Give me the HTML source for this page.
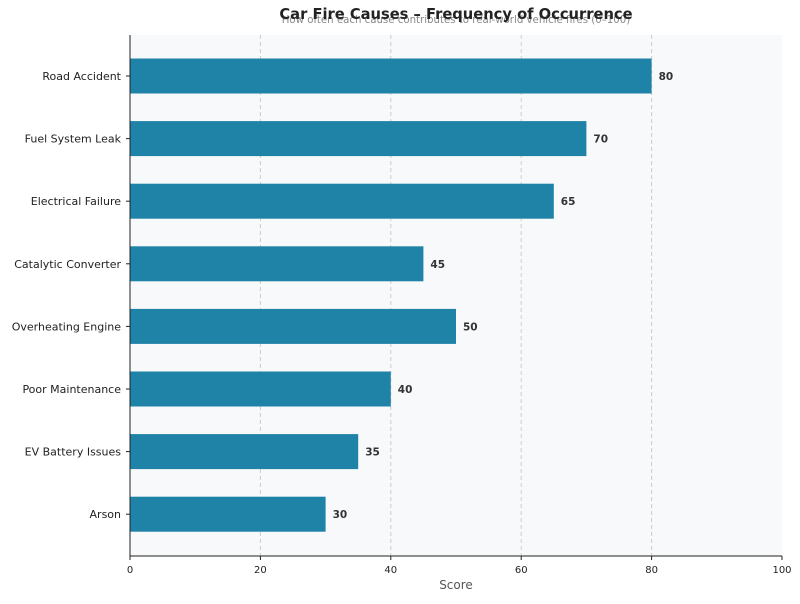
<!DOCTYPE html>
<html><head><meta charset="utf-8"><style>
body{margin:0;background:#fff;font-family:"DejaVu Sans","Liberation Sans",sans-serif}
</style></head><body>
<svg id="c" width="800" height="600" xmlns="http://www.w3.org/2000/svg">
<rect x="130" y="35" width="652" height="521" fill="#f7f9fb"/>
<text x="456" y="23" text-anchor="middle" font-size="10.2" fill="#888">How often each cause contributes to real-world vehicle fires (0–100)</text>
<text x="456" y="19" text-anchor="middle" font-size="14.7" font-weight="bold" fill="#222">Car Fire Causes – Frequency of Occurrence</text>
<g id="g"></g>
<line x1="130" y1="35" x2="130" y2="556" stroke="#222"/>
<line x1="130" y1="556" x2="782" y2="556" stroke="#222"/>
<text x="456" y="589" text-anchor="middle" font-size="12" fill="#555">Score</text>
</svg>
<script>
const categories=["Road Accident","Fuel System Leak","Electrical Failure","Catalytic Converter","Overheating Engine","Poor Maintenance","EV Battery Issues","Arson"];
const values=[80,70,65,45,50,40,35,30];
const xTicks=[0,20,40,60,80,100];
const NS="http://www.w3.org/2000/svg";
const g=document.getElementById('g');
const x=v=>130+v*6.52;
const y=i=>76+i*62.6;
function mk(t,a,txt){const e=document.createElementNS(NS,t);for(const k in a)e.setAttribute(k,a[k]);if(txt!==undefined)e.textContent=txt;g.appendChild(e);return e;}
xTicks.forEach(t=>{
 if(t>0&&t<100){const l=mk('line',{x1:x(t),x2:x(t),y1:35,y2:556,stroke:'#ccc','stroke-dasharray':'4,3'});
 
 }
 const tk=mk('line',{x1:x(t),x2:x(t),y1:556,y2:560,stroke:'#222'});
 
 
 const tl=mk('text',{x:x(t),y:573,'text-anchor':'middle','font-size':10,fill:'#222'},t);
 
 
});
categories.forEach((c,i)=>{
 const r=mk('rect',{x:130,y:y(i)-17.5,width:x(values[i])-130,height:35,fill:'#1f83a8'});
 
 
 const v=mk('text',{x:x(values[i])+7,y:y(i)+4,'font-size':10.5,'font-weight':'bold',fill:'#333'},values[i]);
 
 
 const tk=mk('line',{x1:126,x2:130,y1:y(i),y2:y(i),stroke:'#222'});
 
 
 const l=mk('text',{x:121,y:y(i)+4,'text-anchor':'end','font-size':11,fill:'#222'},c);
 
 
});
</script>
</body></html>
